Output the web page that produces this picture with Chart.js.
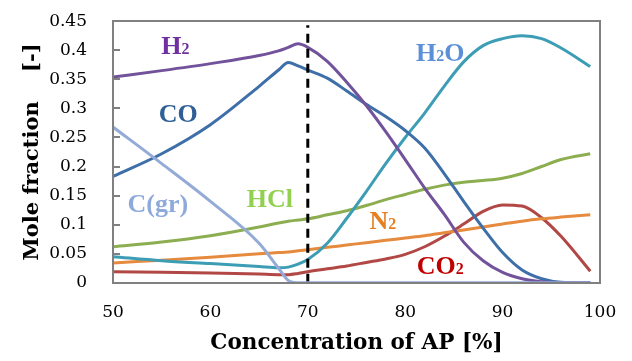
<!DOCTYPE html>
<html>
<head>
<meta charset="utf-8">
<script src="https://cdn.jsdelivr.net/npm/chart.js@4"></script>
<style>
  html, body { margin: 0; padding: 0; background: #fff; }
  #wrap { width: 632px; height: 361px; }
</style>
</head>
<body>
<div id="wrap"><canvas id="chart"></canvas></div>
<script>
// AP concentration [%]
const xValues = [50, 55, 60, 65, 67, 68, 69, 70, 72, 74, 76, 78, 80, 82, 84, 86, 88, 90, 92, 94, 96, 99];

const h2  = [0.354, 0.365, 0.377, 0.391, 0.399, 0.405, 0.411, 0.405, 0.381, 0.345, 0.305, 0.260, 0.212, 0.163, 0.118, 0.070, 0.038, 0.018, 0.007, 0.002, 0, 0];
const co  = [0.183, 0.222, 0.272, 0.338, 0.366, 0.379, 0.373, 0.366, 0.352, 0.330, 0.307, 0.286, 0.262, 0.232, 0.188, 0.140, 0.094, 0.052, 0.022, 0.007, 0.001, 0];
const h2o = [0.045, 0.038, 0.033, 0.028, 0.026, 0.027, 0.032, 0.040, 0.068, 0.111, 0.157, 0.205, 0.250, 0.292, 0.338, 0.380, 0.408, 0.420, 0.425, 0.420, 0.404, 0.372];
const cgr = [0.268, 0.205, 0.140, 0.068, 0.025, 0.004, 0, 0, 0, 0, 0, 0, 0, 0, 0, 0, 0, 0, 0, 0, 0, 0];
const hcl = [0.062, 0.070, 0.081, 0.096, 0.103, 0.106, 0.108, 0.110, 0.117, 0.124, 0.133, 0.143, 0.152, 0.161, 0.168, 0.173, 0.176, 0.180, 0.188, 0.200, 0.212, 0.222];
const n2  = [0.034, 0.039, 0.044, 0.050, 0.052, 0.053, 0.055, 0.057, 0.061, 0.065, 0.069, 0.073, 0.077, 0.081, 0.086, 0.091, 0.096, 0.101, 0.106, 0.110, 0.113, 0.117];
const co2 = [0.019, 0.018, 0.017, 0.015, 0.014, 0.014, 0.016, 0.019, 0.024, 0.029, 0.035, 0.041, 0.049, 0.062, 0.080, 0.101, 0.123, 0.134, 0.132, 0.112, 0.080, 0.020];

// dashed marker at 70 %
const vLineX = 70;
const vLineTop = 0.443;

const xTicks = [50, 60, 70, 80, 90, 100];
const yTicks = [0, 0.05, 0.1, 0.15, 0.2, 0.25, 0.3, 0.35, 0.4, 0.45];

// species labels: main text, subscript, rest, position in data units
const labels = [
  { text: 'H', sub: '2', rest: '', x: 56.4, y: 0.409, color: '#7030a0' },
  { text: 'CO', sub: '', rest: '', x: 56.7, y: 0.292, color: '#2f5f97' },
  { text: 'H', sub: '2', rest: 'O', x: 83.6, y: 0.397, color: '#5b90d8' },
  { text: 'C(gr)', sub: '', rest: '', x: 54.6, y: 0.137, color: '#8eaadb' },
  { text: 'HCl', sub: '', rest: '', x: 66.1, y: 0.146, color: '#92d050' },
  { text: 'N', sub: '2', rest: '', x: 77.7, y: 0.108, color: '#e67e22' },
  { text: 'CO', sub: '2', rest: '', x: 83.6, y: 0.031, color: '#c00000' },
];

const toPoints = arr => arr.map((v, i) => ({ x: xValues[i], y: v }));

const line = (data, color) => ({
  data: toPoints(data),
  borderColor: color,
  borderWidth: 3,
  pointRadius: 0,
  fill: false,
  cubicInterpolationMode: 'monotone',
});

// frame, inward y ticks and species labels
const decorations = {
  id: 'decorations',
  afterDraw(chart) {
    const { ctx, scales: { x, y } } = chart;
    const l = Math.round(x.getPixelForValue(50)), r = Math.round(x.getPixelForValue(100));
    const t = Math.round(y.getPixelForValue(0.45)), b = Math.round(y.getPixelForValue(0));
    ctx.save();
    ctx.fillStyle = '#808080';
    ctx.fillRect(l - 1, t - 1, r - l + 2, 2);   // top
    ctx.fillRect(r - 1, t - 1, 2, b - t + 2);   // right
    ctx.fillRect(l - 1, b - 1, r - l + 2, 2);   // bottom
    ctx.fillRect(l - 1, t - 1, 2, b - t + 2);   // left
    yTicks.forEach(v => {
      const py = Math.round(y.getPixelForValue(v));
      ctx.fillRect(l, py - 1, 7, 2);
    });

    labels.forEach(lb => {
      const big = 'bold 26px "Liberation Serif"';
      const small = 'bold 16px "Liberation Serif"';
      ctx.font = big;
      const w1 = ctx.measureText(lb.text).width;
      const w3 = ctx.measureText(lb.rest).width;
      ctx.font = small;
      const w2 = ctx.measureText(lb.sub).width;
      let px = x.getPixelForValue(lb.x) - (w1 + w2 + w3) / 2;
      const base = y.getPixelForValue(lb.y) + 9;
      ctx.fillStyle = lb.color;
      ctx.textBaseline = 'alphabetic';
      ctx.textAlign = 'left';
      ctx.font = big;
      ctx.fillText(lb.text, px, base);
      px += w1;
      ctx.font = small;
      ctx.fillText(lb.sub, px, base);
      px += w2;
      ctx.font = big;
      ctx.fillText(lb.rest, px, base);
    });
    ctx.restore();
  }
};

new Chart(document.getElementById('chart'), {
  type: 'line',
  data: {
    datasets: [
      line(cgr, '#93abd6'),
      {
        data: [{ x: vLineX, y: 0 }, { x: vLineX, y: vLineTop }],
        borderColor: '#000',
        borderWidth: 3,
        borderDash: [9, 6],
        pointRadius: 0,
        fill: false,
      },
      line(h2, '#72539b'),
      line(co, '#3e6fa9'),
      line(h2o, '#3c9db4'),
      line(hcl, '#8cae50'),
      line(n2, '#e68a3e'),
      line(co2, '#b14846'),
    ],
  },
  options: {
    responsive: true,
    maintainAspectRatio: false,
    animation: false,
    layout: { padding: { top: 15, right: 32, left: 0, bottom: 0 } },
    plugins: { legend: { display: false }, tooltip: { enabled: false } },
    scales: {
      x: {
        type: 'linear',
        min: 50,
        max: 100,
        afterBuildTicks: s => { s.ticks = xTicks.map(v => ({ value: v })); },
        grid: { display: false, drawTicks: true, tickLength: 20 },
        border: { display: false },
        ticks: {
          color: '#000',
          padding: 0,
          maxRotation: 0,
          font: { family: 'DejaVu Serif', size: 17 },
          callback: v => String(v),
        },
        title: {
          display: true,
          text: 'Concentration of AP [%]',
          color: '#000',
          padding: { top: 7, bottom: 5 },
          font: { family: 'DejaVu Serif', size: 21.5, weight: 'bold' },
        },
      },
      y: {
        min: 0,
        max: 0.45,
        afterBuildTicks: s => { s.ticks = yTicks.map(v => ({ value: v })); },
        afterFit: s => { s.width = 113; },
        grid: { display: false, drawTicks: true, tickLength: 15 },
        border: { display: false },
        ticks: {
          color: '#000',
          padding: 11,
          font: { family: 'DejaVu Serif', size: 17 },
          callback: v => String(Math.round(v * 100) / 100),
        },
        title: {
          display: true,
          text: 'Mole fraction    [-]',
          color: '#000',
          padding: { top: 20, bottom: 0 },
          font: { family: 'DejaVu Serif', size: 21, weight: 'bold' },
        },
      },
    },
  },
  plugins: [decorations],
});
</script>
</body>
</html>
